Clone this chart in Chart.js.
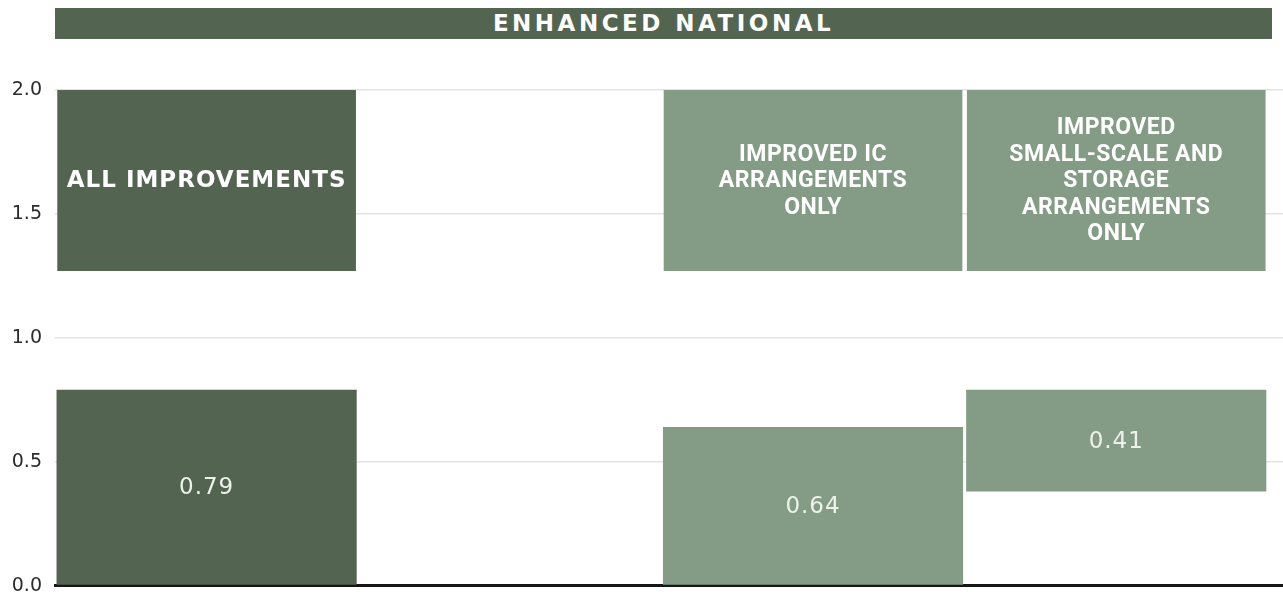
<!DOCTYPE html>
<html>
<head>
<meta charset="utf-8">
<script src="https://cdn.jsdelivr.net/npm/chart.js@4/dist/chart.umd.min.js"></script>
<style>
  html, body { margin: 0; padding: 0; background: #fff; overflow: hidden; }
  #wrap { position: absolute; left: 0; top: 0; width: 1283px; height: 610px; }
  #band {
    position: absolute; left: 55px; top: 8px; width: 1217px; height: 31px;
    background: #536451; color: #fff; text-align: center;
    font: bold 23px "DejaVu Sans", sans-serif; line-height: 31px; letter-spacing: 3.5px;
  }
</style>
</head>
<body>
<div id="wrap"><canvas id="chart"></canvas></div>
<div id="band">ENHANCED NATIONAL</div>
<script>
// Scenario columns (second slot is left empty)
const categories = ['ALL IMPROVEMENTS', '', 'IMPROVED IC ARRANGEMENTS ONLY', 'IMPROVED SMALL-SCALE AND STORAGE ARRANGEMENTS ONLY'];
const headerLines = [
  ['ALL IMPROVEMENTS'],
  [],
  ['IMPROVED IC', 'ARRANGEMENTS', 'ONLY'],
  ['IMPROVED', 'SMALL-SCALE AND', 'STORAGE', 'ARRANGEMENTS', 'ONLY']
];
const values = [0.79, null, 0.64, 0.41];
const bases = [0, null, 0, 0.38];
const headerRange = [1.27, 2.0];
const yTicks = [0, 0.5, 1.0, 1.5, 2.0];

const DARK = '#536451';
const LIGHT = '#849c85';
const barColors = [DARK, null, LIGHT, LIGHT];

// build points for the filled slots only
const slots = categories.map((c, i) => i).filter(i => values[i] !== null);
const valuePoints = slots.map(i => ({ x: i + 0.5, y: [bases[i], bases[i] + values[i]] }));
const headerPoints = slots.map(i => ({ x: i + 0.5, y: headerRange.slice() }));
const slotColors = slots.map(i => barColors[i]);

// Text inside the bars and the header boxes
const barText = {
  id: 'barText',
  afterDatasetsDraw(chart) {
    const ctx = chart.ctx;
    ctx.save();
    ctx.textAlign = 'center';
    ctx.textBaseline = 'middle';
    ctx.fillStyle = '#eef2ec';

    chart.getDatasetMeta(0).data.forEach((bar, j) => {
      const i = slots[j];
      ctx.font = '23px "DejaVu Sans", sans-serif';
      ctx.letterSpacing = '1px';
      ctx.fillText(values[i].toFixed(2), bar.x, (bar.y + bar.base) / 2 + 1);
    });

    ctx.fillStyle = '#ffffff';
    chart.getDatasetMeta(1).data.forEach((box, j) => {
      const i = slots[j];
      const lines = headerLines[i];
      if (i === 0) {
        ctx.font = 'bold 23px "DejaVu Sans", sans-serif';
        ctx.letterSpacing = '1px';
      } else {
        ctx.font = 'bold 23px Roboto, sans-serif';
        ctx.letterSpacing = '0.5px';
      }
      const lh = 26.5;
      const mid = (box.y + box.base) / 2;
      lines.forEach((t, k) => {
        ctx.fillText(t, box.x, mid + (k - (lines.length - 1) / 2) * lh + 1);
      });
    });
    ctx.restore();
  }
};

new Chart(document.getElementById('chart'), {
  type: 'bar',
  data: {
    datasets: [
      {
        label: 'value',
        data: valuePoints,
        backgroundColor: slotColors,
        borderWidth: 0,
        grouped: false,
        categoryPercentage: 1,
        barPercentage: 0.99,
        order: 1
      },
      {
        label: 'header',
        data: headerPoints,
        backgroundColor: slotColors,
        borderWidth: 0,
        grouped: false,
        categoryPercentage: 1,
        barPercentage: 0.985,
        order: 2
      }
    ]
  },
  options: {
    responsive: true,
    maintainAspectRatio: false,
    animation: false,
    layout: { padding: { top: 90, right: 0, bottom: 16, left: 0 } },
    plugins: {
      legend: { display: false },
      tooltip: { enabled: false }
    },
    scales: {
      x: {
        type: 'linear',
        min: 0,
        max: 4.05,
        offset: false,
        z: 1,
        // no ticks on x, so bar width comes from slot spacing only
        afterBuildTicks: scale => { scale.ticks = [{ value: 0 }]; },
        ticks: { display: false },
        grid: { display: false },
        border: { display: true, color: '#161616', width: 3 }
      },
      y: {
        min: yTicks[0],
        max: yTicks[yTicks.length - 1],
        afterBuildTicks: scale => { scale.ticks = yTicks.map(v => ({ value: v })); },
        afterFit: scale => { scale.width = 55; },
        ticks: {
          padding: 13,
          color: '#2b2b2b',
          font: { family: '"DejaVu Sans", sans-serif', size: 19 },
          callback: v => Number(v).toFixed(1)
        },
        grid: { color: '#e3e3e3', lineWidth: 1.5, drawTicks: false },
        border: { display: false }
      }
    }
  },
  plugins: [barText]
});
</script>
</body>
</html>
